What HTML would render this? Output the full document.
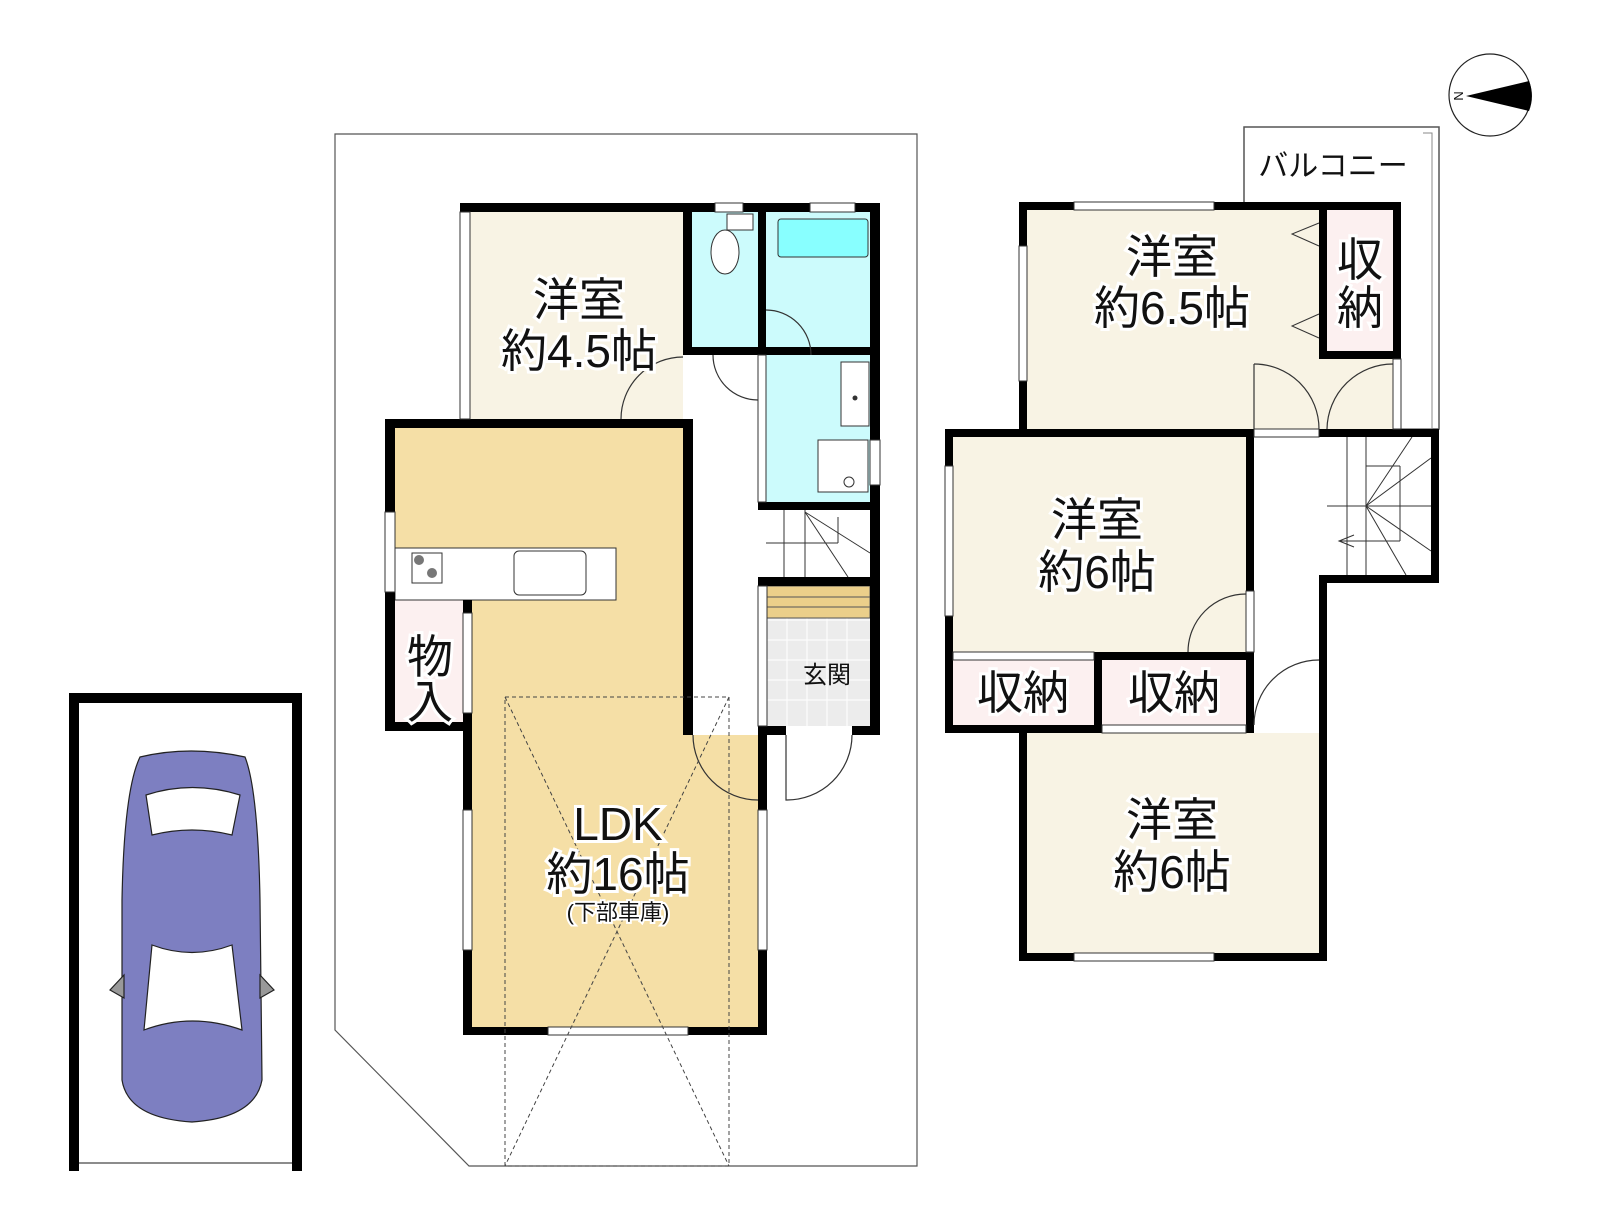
<!DOCTYPE html>
<html><head><meta charset="utf-8"><style>
html,body{margin:0;padding:0;background:#fff;}
svg{display:block;}
text{font-family:"Liberation Sans","Noto Sans CJK JP",sans-serif;fill:#111;text-anchor:middle;}
.big{font-size:46px;stroke:#fff;stroke-width:6px;paint-order:stroke;}
</style></head><body>
<svg width="1605" height="1215" viewBox="0 0 1605 1215" xmlns="http://www.w3.org/2000/svg">
<!-- compass -->
<circle cx="1490" cy="95" r="41" fill="#fff" stroke="#222" stroke-width="1.2"/>
<path d="M1466,96 L1529,81 A41,41 0 0 1 1529,111 Z" fill="#000"/>
<text x="1459" y="101" font-size="13" transform="rotate(90 1459 96)">N</text>

<!-- site outline -->
<polygon points="335,134 917,134 917,1166 469,1166 335,1030" fill="none" stroke="#555" stroke-width="1.2"/>

<!-- carport -->
<rect x="69" y="693" width="233" height="10" fill="#000"/>
<rect x="69" y="693" width="10" height="478" fill="#000"/>
<rect x="292" y="693" width="10" height="478" fill="#000"/>
<line x1="79" y1="1163" x2="292" y2="1163" stroke="#666" stroke-width="1.5"/>
<g stroke="#222" stroke-width="1.2">
<path d="M140,757 Q190,745 245,757 Q258,790 260,900 L262,1080 Q255,1118 192,1122 Q128,1118 122,1080 L122,900 Q124,790 140,757 Z" fill="#7d7fc1"/>
<path d="M146,795 Q192,780 240,795 L232,835 Q192,825 152,835 Z" fill="#fff"/>
<path d="M152,945 Q192,960 232,945 L242,1030 Q192,1012 144,1030 Z" fill="#fff"/>
<path d="M124,975 L110,990 L124,998 Z" fill="#999"/>
<path d="M260,975 L274,990 L260,998 Z" fill="#999"/>
</g>

<!-- LEFT PLAN FILLS -->
<rect x="470" y="212" width="213" height="207" fill="#f8f3e4"/>
<rect x="692" y="212" width="66" height="135" fill="#ccfbfc"/>
<rect x="766" y="212" width="104" height="135" fill="#ccfbfc"/>
<rect x="778" y="219" width="90" height="38" rx="3" fill="#88ffff" stroke="#333" stroke-width="1"/>
<rect x="766" y="355" width="104" height="147" fill="#ccfbfc"/>
<rect x="395" y="428" width="288" height="172" fill="#f5dfa6"/>
<rect x="472" y="600" width="211" height="135" fill="#f5dfa6"/>
<rect x="472" y="735" width="286" height="292" fill="#f5dfa6"/>
<rect x="395" y="600" width="68" height="122" fill="#fcf0f0"/>
<rect x="767" y="586" width="103" height="140" fill="#ececec"/>
<g stroke="#fff" stroke-width="1">
<line x1="767" y1="620" x2="870" y2="620"/><line x1="767" y1="640" x2="870" y2="640"/><line x1="767" y1="660" x2="870" y2="660"/><line x1="767" y1="680" x2="870" y2="680"/><line x1="767" y1="700" x2="870" y2="700"/>
<line x1="787" y1="600" x2="787" y2="726"/><line x1="807" y1="600" x2="807" y2="726"/><line x1="827" y1="600" x2="827" y2="726"/><line x1="847" y1="600" x2="847" y2="726"/>
</g>
<rect x="767" y="586" width="103" height="32" fill="#ebcf8a" stroke="#555" stroke-width="1"/>
<line x1="767" y1="597" x2="870" y2="597" stroke="#555"/><line x1="767" y1="607" x2="870" y2="607" stroke="#555"/>
<rect x="727" y="214" width="26" height="16" fill="#fff" stroke="#333"/>
<ellipse cx="725" cy="252" rx="14" ry="22" fill="#fff" stroke="#333"/>
<rect x="841" y="362" width="28" height="64" fill="#fff" stroke="#333"/>
<circle cx="855" cy="398" r="2.5" fill="#333"/>
<rect x="818" y="440" width="50" height="52" fill="#fff" stroke="#333"/>
<circle cx="849" cy="482" r="5" fill="#fff" stroke="#333"/>
<rect x="395" y="548" width="221" height="52" fill="#fff" stroke="#333"/>
<rect x="412" y="553" width="30" height="30" fill="#fff" stroke="#333"/>
<circle cx="419" cy="560" r="5" fill="#777"/><circle cx="432" cy="573" r="5" fill="#777"/>
<rect x="514" y="551" width="72" height="44" rx="5" fill="#fff" stroke="#333"/>
<g stroke="#333" stroke-width="1" fill="none">
<line x1="784" y1="510" x2="784" y2="577"/><line x1="805" y1="510" x2="805" y2="577"/>
<line x1="766" y1="543" x2="838" y2="543"/><line x1="838" y1="517" x2="838" y2="543"/>
<line x1="805" y1="512" x2="848" y2="577"/><line x1="805" y1="512" x2="870" y2="553"/>
</g>
<g fill="#000">
<rect x="460" y="203" width="420" height="9"/>
<rect x="683" y="203" width="9" height="152"/>
<rect x="758" y="203" width="8" height="152"/>
<rect x="692" y="347" width="66" height="8"/>
<rect x="766" y="347" width="104" height="8"/>
<rect x="870" y="203" width="10" height="532"/>
<rect x="385" y="419" width="307" height="9"/>
<rect x="683" y="419" width="10" height="316"/>
<rect x="385" y="419" width="10" height="312"/>
<rect x="385" y="722" width="87" height="9"/>
<rect x="463" y="600" width="9" height="435"/>
<rect x="463" y="1027" width="304" height="8"/>
<rect x="758" y="726" width="9" height="309"/>
<rect x="758" y="502" width="122" height="8"/>
<rect x="758" y="577" width="122" height="9"/>
<rect x="758" y="726" width="28" height="9"/>
<rect x="852" y="726" width="28" height="9"/>
</g>
<g fill="#fff" stroke="#333" stroke-width="1">
<rect x="460" y="212" width="10" height="207"/>
<rect x="385" y="512" width="10" height="80"/>
<rect x="463" y="613" width="9" height="100"/>
<rect x="463" y="810" width="9" height="140"/>
<rect x="758" y="810" width="9" height="140"/>
<rect x="548" y="1027" width="140" height="8"/>
<rect x="758" y="355" width="8" height="147"/>
<rect x="758" y="586" width="9" height="140"/>
<rect x="870" y="440" width="10" height="45"/>
<rect x="810" y="203" width="45" height="9"/>
<rect x="715" y="203" width="28" height="9"/>
</g>
<g fill="none" stroke="#333" stroke-width="1.2">
<path d="M621,419 A62,62 0 0 1 683,357"/>
<path d="M713,355 A45,45 0 0 0 758,400"/>
<path d="M766,310 A45,45 0 0 1 811,355"/>
<path d="M693,735 A65,65 0 0 0 758,800"/>
<path d="M786,735 L786,800 A65,65 0 0 0 852,735"/>
</g>
<g fill="none" stroke="#444" stroke-width="1" stroke-dasharray="4,3">
<rect x="505" y="697" width="224" height="469"/>
<line x1="505" y1="697" x2="729" y2="1166"/><line x1="729" y1="697" x2="505" y2="1166"/>
</g>
<text class="big" x="579" y="316">洋室</text>
<text class="big" x="579" y="367">約4.5帖</text>
<text class="big" x="618" y="840">LDK</text>
<text class="big" x="618" y="890">約16帖</text>
<text x="618" y="920" font-size="22" stroke="#fff" stroke-width="4" paint-order="stroke">(下部車庫)</text>
<text class="big" x="430" y="673" font-size="40">物</text>
<text class="big" x="430" y="718" font-size="40">入</text>
<text x="827" y="683" font-size="24">玄関</text>

<!-- RIGHT PLAN -->
<g transform="translate(-8,-4)">
<rect x="1252" y="131" width="195" height="302" fill="none" stroke="#555" stroke-width="1.5"/>
<rect x="1258" y="137" width="182" height="296" fill="none" stroke="#888" stroke-width="1"/>
<rect x="1253" y="132" width="178" height="74" fill="#fff"/>
<text x="1341" y="180" font-size="30">バルコニー</text>
<rect x="1035" y="214" width="294" height="219" fill="#f8f3e4"/>
<rect x="1329" y="363" width="72" height="70" fill="#f8f3e4"/>
<rect x="1335" y="214" width="66" height="141" fill="#fcf0f0"/>
<rect x="961" y="441" width="293" height="215" fill="#f8f3e4"/>
<rect x="961" y="664" width="141" height="65" fill="#fcf0f0"/>
<rect x="1110" y="664" width="144" height="65" fill="#fcf0f0"/>
<rect x="1035" y="737" width="292" height="220" fill="#f8f3e4"/>
<g stroke="#333" stroke-width="1" fill="none">
<path d="M1327,227 L1300,238 L1327,250"/><path d="M1327,318 L1300,330 L1327,342"/>
<line x1="1355" y1="441" x2="1355" y2="579"/><line x1="1374" y1="441" x2="1374" y2="579"/>
<line x1="1335" y1="510" x2="1439" y2="510"/><line x1="1374" y1="470" x2="1408" y2="470"/><line x1="1408" y1="470" x2="1408" y2="545"/>
<line x1="1374" y1="510" x2="1439" y2="462"/><line x1="1374" y1="510" x2="1420" y2="441"/><line x1="1374" y1="510" x2="1439" y2="555"/><line x1="1374" y1="510" x2="1414" y2="579"/>
<path d="M1362,539 L1347,545 L1362,551"/><line x1="1347" y1="545" x2="1408" y2="545"/>
</g>
<g fill="#000">
<rect x="1027" y="206" width="382" height="8"/>
<rect x="1027" y="206" width="8" height="235"/>
<rect x="1327" y="206" width="8" height="157"/>
<rect x="1401" y="206" width="8" height="157"/>
<rect x="1327" y="355" width="82" height="8"/>
<rect x="953" y="433" width="308" height="8"/>
<rect x="1327" y="433" width="120" height="8"/>
<rect x="953" y="433" width="8" height="304"/>
<rect x="1254" y="433" width="8" height="304"/>
<rect x="1439" y="433" width="8" height="154"/>
<rect x="1327" y="579" width="120" height="8"/>
<rect x="1327" y="579" width="8" height="386"/>
<rect x="953" y="656" width="309" height="8"/>
<rect x="1102" y="656" width="8" height="81"/>
<rect x="953" y="729" width="309" height="8"/>
<rect x="1027" y="729" width="8" height="236"/>
<rect x="1027" y="957" width="308" height="8"/>
</g>
<g fill="#fff" stroke="#333" stroke-width="1">
<rect x="1082" y="206" width="140" height="8"/>
<rect x="1027" y="250" width="8" height="135"/>
<rect x="953" y="470" width="8" height="150"/>
<rect x="1082" y="957" width="140" height="8"/>
<rect x="961" y="656" width="141" height="8"/>
<rect x="1110" y="729" width="144" height="8"/>
<rect x="1254" y="595" width="8" height="61"/>
<rect x="1401" y="363" width="8" height="70"/>
<rect x="1262" y="433" width="65" height="8"/>
</g>
<g fill="none" stroke="#333" stroke-width="1.2">
<path d="M1262,368 A65,65 0 0 1 1327,433"/><line x1="1262" y1="368" x2="1262" y2="433"/>
<path d="M1401,368 A66,66 0 0 0 1335,433"/>
<path d="M1196,656 A58,58 0 0 1 1254,598"/>
<path d="M1262,729 A65,65 0 0 1 1327,664"/>
</g>
<text class="big" x="1180" y="277">洋室</text>
<text class="big" x="1180" y="328">約6.5帖</text>
<text class="big" x="1368" y="280">収</text>
<text class="big" x="1368" y="328">納</text>
<text class="big" x="1105" y="540">洋室</text>
<text class="big" x="1105" y="592">約6帖</text>
<text class="big" x="1031" y="713" font-size="42">収納</text>
<text class="big" x="1182" y="713" font-size="42">収納</text>
<text class="big" x="1180" y="840">洋室</text>
<text class="big" x="1180" y="892">約6帖</text>
</g>
</svg>
</body></html>
